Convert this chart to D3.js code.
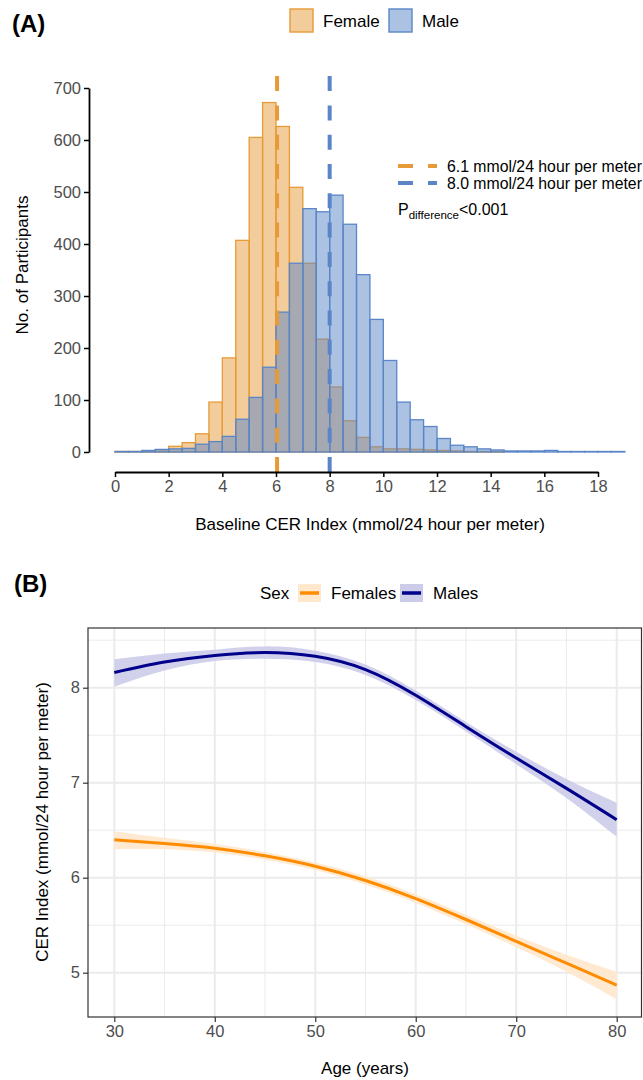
<!DOCTYPE html>
<html>
<head>
<meta charset="utf-8">
<script src="https://cdn.jsdelivr.net/npm/d3@7"></script>
<style>
  body { margin: 0; background: #fff; }
  svg { font-family: "Liberation Sans", Arial, sans-serif; }
</style>
</head>
<body>
<div id="chart"></div>
<script>
// ---------------------------------- DATA ----------------------------------
// panel A: histogram, bins of 0.5 mmol/24 hour per meter
const BIN_START = [0, 0.5, 1, 1.5, 2, 2.5, 3, 3.5, 4, 4.5, 5, 5.5, 6, 6.5, 7, 7.5, 8, 8.5, 9, 9.5,
                   10, 10.5, 11, 11.5, 12, 12.5, 13, 13.5, 14, 14.5, 15, 15.5, 16, 16.5, 17, 17.5, 18, 18.5];
const FEMALE_COUNTS = [1, 1, 2, 4, 11, 18, 35, 96, 181, 407, 605, 672, 626, 509, 363, 217, 125, 60, 28, 10,
                       6, 6, 5, 4, 3, 2, 1, 1, 1, 0, 0, 0, 0, 0, 0, 0, 0, 0];
const MALE_COUNTS = [1, 1, 3, 5, 6, 7, 15, 20, 30, 63, 105, 163, 269, 363, 468, 462, 494, 438, 341, 255,
                     176, 96, 62, 49, 26, 13, 10, 6, 4, 2, 2, 2, 3, 1, 1, 1, 1, 1];
const SEX_A = ["Female", "Male"];
const MEDIANS = [6.04, 8.0];
const MEDIAN_LABELS = ["6.1 mmol/24 hour per meter", "8.0 mmol/24 hour per meter"];
const X_TICKS_A = [0, 2, 4, 6, 8, 10, 12, 14, 16, 18];
const Y_TICKS_A = [0, 100, 200, 300, 400, 500, 600, 700];

// panel B: smoothed CER index by age
const AGES = [30, 35, 40, 45, 50, 55, 60, 65, 70, 75, 80];
const FEMALE_FIT = [6.40, 6.36, 6.31, 6.23, 6.12, 5.97, 5.78, 5.56, 5.33, 5.10, 4.87];
const FEMALE_LO  = [6.30, 6.30, 6.265, 6.19, 6.08, 5.925, 5.735, 5.51, 5.27, 5.01, 4.72];
const FEMALE_HI  = [6.49, 6.42, 6.355, 6.27, 6.16, 6.015, 5.825, 5.61, 5.39, 5.19, 5.01];
const MALE_FIT = [8.16, 8.27, 8.34, 8.37, 8.33, 8.19, 7.92, 7.59, 7.26, 6.94, 6.61];
const MALE_LO  = [8.01, 8.18, 8.28, 8.305, 8.27, 8.135, 7.87, 7.54, 7.195, 6.84, 6.43];
const MALE_HI  = [8.30, 8.36, 8.40, 8.435, 8.39, 8.245, 7.97, 7.64, 7.325, 7.04, 6.79];
const SEX_B = ["Females", "Males"];
const X_TICKS_B = [30, 40, 50, 60, 70, 80];
const Y_TICKS_B = [5, 6, 7, 8];

// ---------------------------------- SETUP ----------------------------------
const WIDTH = 643;
const HEIGHT = 1080;
const svg = d3.select("#chart").append("svg").attr("width", WIDTH).attr("height", HEIGHT);

const TICK_COLOR = "#4d4d4d";
const TICK_SIZE = 16.5;
const TITLE_SIZE = 17;
const ORANGE_A = "#e69b38";
const BLUE_A = "#5a86c8";

// ---------------------------------- PANEL A ----------------------------------
const xA = d3.scaleLinear().domain([0, 18]).range([115, 598]);
const yA = d3.scaleLinear().domain([0, 700]).range([452, 88]);
const PANEL_A_BOTTOM = 472, PANEL_A_TOP = 76;

svg.append("text").attr("x", 12).attr("y", 32)
  .attr("font-size", 24).attr("font-weight", "bold").text("(A)");

// legend
const legA = svg.append("g");
const legAx = [290, 389];
[ORANGE_A, BLUE_A].forEach((c, i) => {
  legA.append("rect").attr("x", legAx[i]).attr("y", 9).attr("width", 23).attr("height", 23)
    .attr("fill", c).attr("fill-opacity", 0.5).attr("stroke", c).attr("stroke-width", 1.4);
  legA.append("text").attr("x", legAx[i] + 33).attr("y", 21).attr("dy", "0.35em")
    .attr("font-size", TITLE_SIZE).text(SEX_A[i]);
});

// bars
const series = [
  { counts: FEMALE_COUNTS, color: ORANGE_A },
  { counts: MALE_COUNTS, color: BLUE_A }
];
series.forEach(s => {
  svg.append("g").selectAll("rect")
    .data(BIN_START.map((b, i) => ({ b, c: s.counts[i] })))
    .join("rect")
    .attr("x", d => xA(d.b))
    .attr("width", d => xA(d.b + 0.5) - xA(d.b))
    .attr("y", d => yA(d.c))
    .attr("height", d => yA(0) - yA(d.c))
    .attr("fill", s.color).attr("fill-opacity", 0.5)
    .attr("stroke", s.color).attr("stroke-width", 1.3);
});

// median lines
MEDIANS.forEach((m, i) => {
  svg.append("line")
    .attr("x1", xA(m)).attr("x2", xA(m))
    .attr("y1", PANEL_A_BOTTOM).attr("y2", PANEL_A_TOP)
    .attr("stroke", i === 0 ? ORANGE_A : BLUE_A)
    .attr("stroke-width", 4)
    .attr("stroke-dasharray", "15,14.3");
});

// median legend
MEDIAN_LABELS.forEach((lab, i) => {
  const yy = 166 + i * 17;
  svg.append("line").attr("x1", 398).attr("x2", 437).attr("y1", yy).attr("y2", yy)
    .attr("stroke", i === 0 ? ORANGE_A : BLUE_A).attr("stroke-width", 4)
    .attr("stroke-dasharray", "15,15");
  svg.append("text").attr("x", 447).attr("y", yy).attr("dy", "0.35em")
    .attr("font-size", 15.8).text(lab);
});
const pt = svg.append("text").attr("x", 398).attr("y", 215).attr("font-size", 16);
pt.append("tspan").text("P");
pt.append("tspan").attr("font-size", 11.5).attr("dy", 4).text("difference");
pt.append("tspan").attr("dy", -4).text("<0.001");

// axes
const axXA = svg.append("g").attr("transform", `translate(0,${PANEL_A_BOTTOM})`)
  .call(d3.axisBottom(xA).tickValues(X_TICKS_A).tickSize(5).tickSizeOuter(0).tickPadding(3));
const axYA = svg.append("g").attr("transform", "translate(89,0)")
  .call(d3.axisLeft(yA).tickValues(Y_TICKS_A).tickSize(5).tickSizeOuter(0).tickPadding(3));
[axXA, axYA].forEach(g => {
  g.attr("font-family", null).attr("font-size", null);
  g.select(".domain").attr("stroke", "#000").attr("stroke-width", 1.8);
  g.selectAll(".tick line").attr("stroke", "#000").attr("stroke-width", 1.5);
  g.selectAll(".tick text").attr("fill", TICK_COLOR).attr("font-size", TICK_SIZE);
});

svg.append("text").attr("x", 370).attr("y", 524).attr("dy", "0.35em")
  .attr("text-anchor", "middle").attr("font-size", TITLE_SIZE)
  .text("Baseline CER Index (mmol/24 hour per meter)");
svg.append("text").attr("transform", "translate(22,265) rotate(-90)")
  .attr("dy", "0.35em").attr("text-anchor", "middle").attr("font-size", TITLE_SIZE)
  .text("No. of Participants");

// ---------------------------------- PANEL B ----------------------------------
const xB = d3.scaleLinear().domain([30, 80]).range([114.3, 616.7]);
const yB = d3.scaleLinear().domain([5, 8]).range([972.7, 687.7]);
const PB = { left: 88, right: 641.5, top: 628, bottom: 1017 };

svg.append("text").attr("x", 14).attr("y", 592)
  .attr("font-size", 24).attr("font-weight", "bold").text("(B)");

// legend
const ORANGE_B = "#ff8c00", NAVY_B = "#00008b";
const RIB_ORANGE = "#ffe8cc", RIB_NAVY = "#ccccea";
svg.append("text").attr("x", 260).attr("y", 593).attr("dy", "0.35em")
  .attr("font-size", TITLE_SIZE).text("Sex");
const legBx = [298, 400];
[[ORANGE_B, RIB_ORANGE], [NAVY_B, RIB_NAVY]].forEach((c, i) => {
  svg.append("rect").attr("x", legBx[i]).attr("y", 584).attr("width", 23).attr("height", 18)
    .attr("fill", c[1]);
  svg.append("line").attr("x1", legBx[i] + 2).attr("x2", legBx[i] + 21)
    .attr("y1", 593).attr("y2", 593).attr("stroke", c[0]).attr("stroke-width", 3.5);
  svg.append("text").attr("x", legBx[i] + 33).attr("y", 593).attr("dy", "0.35em")
    .attr("font-size", TITLE_SIZE).text(SEX_B[i]);
});

// grid
const gridB = svg.append("g");
const minorX = [35, 45, 55, 65, 75], minorY = [5.5, 6.5, 7.5, 8.5];
minorX.forEach(v => gridB.append("line").attr("x1", xB(v)).attr("x2", xB(v))
  .attr("y1", PB.top).attr("y2", PB.bottom).attr("stroke", "#ebebeb").attr("stroke-width", 1));
minorY.forEach(v => gridB.append("line").attr("y1", yB(v)).attr("y2", yB(v))
  .attr("x1", PB.left).attr("x2", PB.right).attr("stroke", "#ebebeb").attr("stroke-width", 1));
X_TICKS_B.forEach(v => gridB.append("line").attr("x1", xB(v)).attr("x2", xB(v))
  .attr("y1", PB.top).attr("y2", PB.bottom).attr("stroke", "#ebebeb").attr("stroke-width", 2));
Y_TICKS_B.forEach(v => gridB.append("line").attr("y1", yB(v)).attr("y2", yB(v))
  .attr("x1", PB.left).attr("x2", PB.right).attr("stroke", "#ebebeb").attr("stroke-width", 2));

// ribbons and lines
const curve = d3.curveNatural;
const fits = [
  { fit: FEMALE_FIT, lo: FEMALE_LO, hi: FEMALE_HI, line: ORANGE_B, rib: RIB_ORANGE },
  { fit: MALE_FIT, lo: MALE_LO, hi: MALE_HI, line: NAVY_B, rib: RIB_NAVY }
];
fits.forEach(f => {
  const pts = AGES.map((a, i) => ({ a, y: f.fit[i], lo: f.lo[i], hi: f.hi[i] }));
  svg.append("path").datum(pts)
    .attr("d", d3.area().x(d => xB(d.a)).y0(d => yB(d.lo)).y1(d => yB(d.hi)).curve(curve))
    .attr("fill", f.rib).attr("fill-opacity", 0.9);
  svg.append("path").datum(pts)
    .attr("d", d3.line().x(d => xB(d.a)).y(d => yB(d.y)).curve(curve))
    .attr("fill", "none").attr("stroke", f.line).attr("stroke-width", 3);
});

// panel border
svg.append("rect").attr("x", PB.left).attr("y", PB.top)
  .attr("width", PB.right - PB.left).attr("height", PB.bottom - PB.top)
  .attr("fill", "none").attr("stroke", "#333").attr("stroke-width", 1.2);

// axes
const axXB = svg.append("g").attr("transform", `translate(0,${PB.bottom})`)
  .call(d3.axisBottom(xB).tickValues(X_TICKS_B).tickSize(5).tickSizeOuter(0).tickPadding(3));
const axYB = svg.append("g").attr("transform", `translate(${PB.left},0)`)
  .call(d3.axisLeft(yB).tickValues(Y_TICKS_B).tickFormat(d3.format("d"))
    .tickSize(5).tickSizeOuter(0).tickPadding(3));
[axXB, axYB].forEach(g => {
  g.attr("font-family", null).attr("font-size", null);
  g.select(".domain").remove();
  g.selectAll(".tick line").attr("stroke", "#333").attr("stroke-width", 1.2);
  g.selectAll(".tick text").attr("fill", TICK_COLOR).attr("font-size", TICK_SIZE);
});

svg.append("text").attr("x", 365).attr("y", 1068).attr("dy", "0.35em")
  .attr("text-anchor", "middle").attr("font-size", TITLE_SIZE).text("Age (years)");
svg.append("text").attr("transform", "translate(42,822) rotate(-90)")
  .attr("dy", "0.35em").attr("text-anchor", "middle").attr("font-size", TITLE_SIZE)
  .text("CER Index (mmol/24 hour per meter)");
</script>
</body>
</html>
